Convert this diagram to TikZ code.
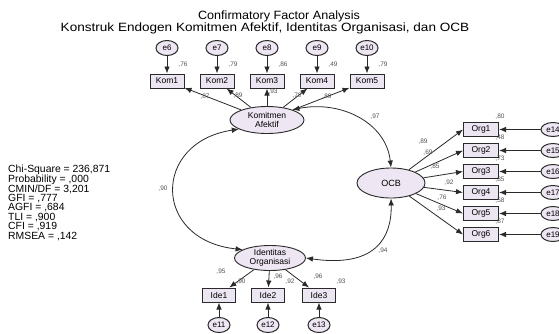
\documentclass[tikz,border=0pt]{standalone}
\usepackage{fontspec}
\setmainfont{Liberation Sans}
\usetikzlibrary{arrows.meta,shapes.geometric}
\definecolor{boxfill}{HTML}{ECE6F2}
\definecolor{latfill}{HTML}{EEE6F3}
\definecolor{linec}{HTML}{2A2A2A}
\definecolor{numc}{HTML}{555555}
\begin{document}
\begin{tikzpicture}[x=1pt,y=-1pt,
  obs/.style={draw=linec,fill=boxfill,minimum width=34pt,minimum height=14pt,inner sep=0pt,line width=1pt,font=\fontsize{8.5}{9}\selectfont},
  lat/.style={ellipse,draw=linec,fill=latfill,inner sep=0pt,align=center,line width=0.9pt,font=\fontsize{8.5}{9}\selectfont},
  err/.style={ellipse,draw=linec,fill=latfill,minimum width=22pt,minimum height=15pt,inner sep=0pt,line width=1pt,font=\fontsize{8}{8}\selectfont},
  arr/.style={-{Latex[length=7pt,width=5.5pt]},draw=linec,line width=0.8pt},
  cov/.style={{Latex[length=7pt,width=5.5pt]}-{Latex[length=7pt,width=5.5pt]},draw=linec,line width=0.8pt},
  num/.style={font=\fontsize{6.5}{7}\selectfont,text=numc,inner sep=0pt},
  stat/.style={font=\fontsize{10.4}{11}\selectfont,anchor=west,inner sep=0pt},
  ttl/.style={font=\fontsize{12}{12}\selectfont,inner sep=0pt}]
\useasboundingbox (0,0) rectangle (559,333);
\clip (0,0) rectangle (559,333);
\fill[white] (0,0) rectangle (559,333);
% title
\node[ttl] (t1) at (279,16) {\scalebox{1.05}[1]{Confirmatory Factor Analysis}};
\node[ttl] (t2) at (265,28) {\scalebox{1.13}[1]{Konstruk Endogen Komitmen Afektif, Identitas Organisasi, dan OCB}};
% fit statistics
\node[stat] (s1) at (8,170) {Chi-Square = 236,871};
\node[stat] (s2) at (8,179.5) {Probability = ,000};
\node[stat] (s3) at (8,189) {CMIN/DF = 3,201};
\node[stat] (s4) at (8,198.5) {GFI = ,777};
\node[stat] (s5) at (8,208) {AGFI = ,684};
\node[stat] (s6) at (8,217.5) {TLI = ,900};
\node[stat] (s7) at (8,227) {CFI = ,919};
\node[stat] (s8) at (8,236.5) {RMSEA = ,142};
% latent variables
\node[lat,minimum width=74pt,minimum height=27pt] (KA) at (267,120) {Komitmen\\Afektif};
\node[lat,minimum width=68pt,minimum height=30pt,font=\fontsize{9}{10}\selectfont] (OCB) at (391,183) {OCB};
\node[lat,minimum width=71pt,minimum height=25pt] (IO) at (270,258) {Identitas\\Organisasi};
% Kom indicators
\foreach \i/\x/\e/\r in {1/167/e6/76, 2/217/e7/79, 3/267/e8/86, 4/317/e9/49, 5/367/e10/79}{
  \node[obs] (K\i) at (\x,81) {Kom\i};
  \node[err] (E\e) at (\x,48) {\e};
  \draw[arr] (E\e) -- (K\i);
  \draw[arr] (KA) -- (K\i);
  \node[num] (rk\i) at (\x+16,65) {,\r};
}
\node[num] (lk1) at (205,97) {,87};
\node[num] (lk2) at (238,96) {,89};
\node[num] (lk3) at (273,92) {,93};
\node[num] (lk4) at (297,96) {,70};
\node[num] (lk5) at (327,97) {,89};
% Org indicators
\foreach \i/\y/\e/\r in {1/129.5/e14/80, 2/150.5/e15/48, 3/171.5/e16/73, 4/192.5/e17/85, 5/213.5/e18/58, 6/234.5/e19/87}{
  \node[obs,minimum width=35pt] (O\i) at (481,\y) {Org\i};
  \node[err,minimum width=24pt,minimum height=14pt] (E\e) at (553,\y) {\e};
  \draw[arr] (E\e) -- (O\i);
  \draw[arr] (OCB) -- (O\i.west);
  \node[num] (ro\i) at (500,\y-13) {,\r};
}
\node[num] (lo1) at (423,142) {,89};
\node[num] (lo2) at (428,153) {,69};
\node[num] (lo3) at (435,167) {,85};
\node[num] (lo4) at (449,183) {,92};
\node[num] (lo5) at (442,198) {,76};
\node[num] (lo6) at (441,209) {,93};
% Ide indicators
\foreach \i/\x/\e/\r in {1/219/e11/90, 2/268/e12/92, 3/319/e13/93}{
  \node[obs,minimum width=33pt] (I\i) at (\x,295) {Ide\i};
  \node[err] (E\e) at (\x,325) {\e};
  \draw[arr] (E\e) -- (I\i);
  \draw[arr] (IO) -- (I\i);
  \node[num] (ri\i) at (\x+22,282) {,\r};
}
\node[num] (li1) at (221,272) {,95};
\node[num] (li2) at (278,277) {,96};
\node[num] (li3) at (318,277) {,96};
% covariances
\draw[cov] (KA.198) .. controls (152,142) and (152,240) .. (IO.163);
\node[num] (c1) at (163,189) {,90};
\draw[cov] (KA.22) .. controls (340,100) and (386,122) .. (OCB.north);
\node[num] (c2) at (375,117) {,97};
\draw[cov] (IO.east) .. controls (375,268) and (392,238) .. (OCB.south);
\node[num] (c3) at (383,251) {,94};
\end{tikzpicture}
\end{document}
